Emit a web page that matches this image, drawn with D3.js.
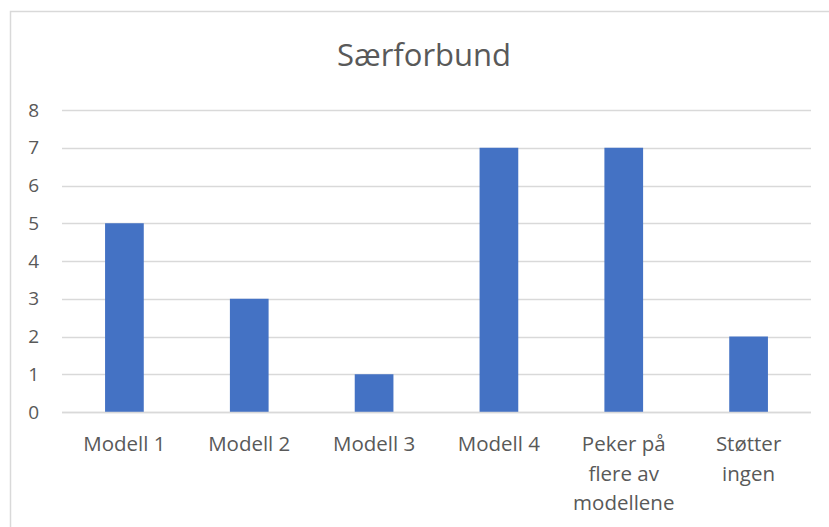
<!DOCTYPE html>
<html>
<head>
<meta charset="utf-8">
<script src="https://cdn.jsdelivr.net/npm/d3@7/dist/d3.min.js"></script>
<style>
  html, body { margin: 0; padding: 0; background: #fff; }
  svg { display: block; }
  text { font-family: "Open Sans", "Noto Sans", sans-serif; fill: #595959; }
</style>
</head>
<body>
<svg id="chart" width="829" height="527"></svg>
<script>
// Chart data
const title = "Særforbund";
const categories = ["Modell 1", "Modell 2", "Modell 3", "Modell 4", "Peker på flere av modellene", "Støtter ingen"];
const categoryLines = [["Modell 1"], ["Modell 2"], ["Modell 3"], ["Modell 4"], ["Peker på", "flere av", "modellene"], ["Støtter", "ingen"]];
const values = [5, 3, 1, 7, 7, 2];
const yTicks = [0, 1, 2, 3, 4, 5, 6, 7, 8];

const svg = d3.select("#chart");

// Chart frame
svg.append("rect")
  .attr("x", 10.5).attr("y", 11.5)
  .attr("width", 840).attr("height", 540)
  .attr("fill", "#fff")
  .attr("stroke", "#d9d9d9")
  .attr("stroke-width", 1.5);

const plot = { left: 62, right: 811, top: 110, bottom: 412 };

const x = d3.scaleBand()
  .domain(categories)
  .range([plot.left, plot.right])
  .paddingInner(0.69)
  .paddingOuter(0.345);

const y = d3.scaleLinear()
  .domain([0, 8])
  .range([plot.bottom, plot.top]);

// Horizontal gridlines
svg.append("g")
  .selectAll("line")
  .data(yTicks)
  .join("line")
  .attr("x1", plot.left).attr("x2", plot.right)
  .attr("y1", d => Math.round(y(d)) + 0.5)
  .attr("y2", d => Math.round(y(d)) + 0.5)
  .attr("stroke", "#d9d9d9")
  .attr("stroke-width", 1.5);

// Y axis labels
const yAxis = d3.axisLeft(y).tickValues(yTicks).tickSize(0).tickPadding(0);
const yg = svg.append("g")
  .attr("transform", `translate(39,0)`)
  .call(yAxis);
yg.select(".domain").remove();
yg.selectAll("text")
  .attr("font-size", 19)
  .attr("fill", "#595959")
  .style("font-family", "'Open Sans', sans-serif");

// Bars
svg.append("g")
  .selectAll("rect")
  .data(values)
  .join("rect")
  .attr("x", (d, i) => x(categories[i]))
  .attr("width", x.bandwidth())
  .attr("y", d => y(d))
  .attr("height", d => y(0) - y(d))
  .attr("fill", "#4472c4");

// Baseline
svg.append("line")
  .attr("x1", plot.left).attr("x2", plot.right)
  .attr("y1", Math.round(y(0)) + 0.5).attr("y2", Math.round(y(0)) + 0.5)
  .attr("stroke", "#d9d9d9")
  .attr("stroke-width", 1.5);

// Category labels, wrapped onto several lines
const xg = svg.append("g");
categories.forEach((c, i) => {
  const cx = x(c) + x.bandwidth() / 2;
  const t = xg.append("text")
    .attr("x", cx)
    .attr("y", 451)
    .attr("text-anchor", "middle")
    .attr("font-size", 20.5);
  categoryLines[i].forEach((line, k) => {
    t.append("tspan")
      .attr("x", cx)
      .attr("dy", k === 0 ? 0 : 29.5)
      .text(line);
  });
});

// Title
svg.append("text")
  .attr("x", 424)
  .attr("y", 66)
  .attr("text-anchor", "middle")
  .attr("font-size", 31)
  .text(title);
</script>
</body>
</html>
